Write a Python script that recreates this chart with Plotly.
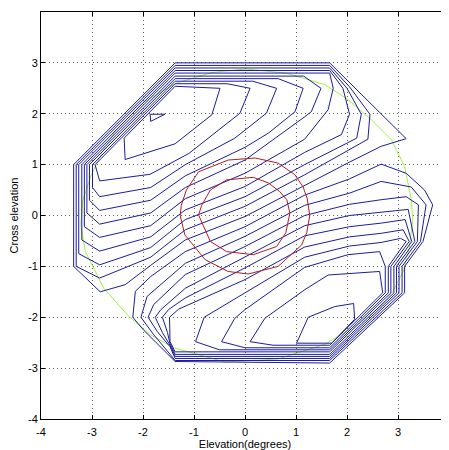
import plotly.graph_objects as go

# ---------------- data ----------------
TICKS = [-4, -3, -2, -1, 0, 1, 2, 3, 4]

# green outline (x, y)
GREEN = [(0.0, 2.88), (0.8, 2.80), (1.57, 2.57), (2.02, 2.28), (2.48, 1.88), (2.87, 1.49),
         (3.13, 0.96), (3.26, 0.31), (3.29, -0.08), (3.22, -0.64), (3.10, -1.10), (2.90, -1.49),
         (2.67, -1.78), (2.22, -2.14), (1.57, -2.53), (0.65, -2.82), (-0.39, -2.88), (-1.40, -2.60),
         (-1.86, -2.34), (-2.28, -1.98), (-2.77, -1.43), (-3.13, -0.71), (-3.22, -0.18), (-3.18, 0.30),
         (-3.02, 0.78), (-2.80, 1.25), (-2.55, 1.65), (-2.00, 2.22), (-1.35, 2.60), (-0.65, 2.81),
         (0.0, 2.88)]

# positive contour loops (upper-left maximum), innermost first
P1 = [(-1.86, 1.99), (-1.57, 1.99), (-1.85, 1.85), (-1.86, 1.99)]
P2 = [(-2.37, 1.52), (-2.35, 1.10), (-1.37, 1.41), (-0.65, 1.98), (-0.49, 2.50), (-1.37, 2.54), (-2.37, 1.52)]
P3 = [(-2.94, 1.0), (-2.85, 0.68), (-1.86, 0.81), (-1.10, 1.22), (-0.10, 2.01), (0.10, 2.50),
      (-0.35, 2.59), (-1.37, 2.59), (-2.94, 1.0)]
P4 = [(-2.99, 1.0), (-2.99, 0.55), (-2.85, 0.37), (-1.85, 0.55), (-1.17, 1.0), (-0.20, 1.52),
      (0.42, 2.01), (0.62, 2.50), (0.15, 2.64), (-1.37, 2.64), (-2.99, 1.0)]
P5 = [(-3.05, 1.0), (-3.05, 0.30), (-2.85, 0.10), (-1.85, 0.30), (-1.17, 0.78), (0.0, 1.34),
      (0.46, 1.62), (0.98, 2.04), (1.14, 2.50), (0.65, 2.69), (-1.37, 2.69), (-3.05, 1.0)]
P6 = [(-3.10, 1.0), (-3.10, 0.05), (-2.85, -0.17), (-1.85, 0.05), (-1.17, 0.55), (0.0, 1.09),
      (1.17, 1.94), (1.30, 2.04), (1.49, 2.50), (1.15, 2.74), (-1.37, 2.74), (-3.10, 1.0)]
P7 = [(-3.15, 1.0), (-3.15, -0.22), (-2.85, -0.43), (-1.85, -0.20), (-1.17, 0.33), (0.0, 0.83),
      (1.17, 1.50), (1.63, 2.08), (1.73, 2.50), (1.66, 2.80), (-1.37, 2.80), (-3.15, 1.0)]
P8 = [(-3.20, 1.0), (-3.20, -0.48), (-2.85, -0.70), (-1.85, -0.42), (-1.17, 0.11), (0.0, 0.57),
      (1.17, 1.24), (1.89, 1.59), (2.05, 1.99), (1.92, 2.50), (1.66, 2.85), (-1.37, 2.85), (-3.20, 1.0)]
P9 = [(-3.26, 1.0), (-3.26, -0.75), (-2.85, -0.97), (-1.85, -0.63), (-1.17, -0.08), (0.0, 0.37),
      (1.17, 1.00), (2.19, 1.52), (2.28, 1.99), (2.00, 2.50), (1.66, 2.90), (-1.37, 2.90), (-3.26, 1.0)]
P10 = [(-3.31, 1.0), (-3.31, -1.0), (-2.85, -1.23), (-1.85, -0.82), (-1.17, -0.28), (0.0, 0.18),
       (1.17, 0.80), (2.41, 1.50), (2.45, 1.99), (2.05, 2.53), (1.66, 2.95), (-1.37, 2.95), (-3.31, 1.0)]
P11 = [(-3.36, 1.0), (-3.36, -1.0), (-2.84, -1.50), (-2.35, -1.36), (-1.85, -0.98), (-1.17, -0.48),
       (0.0, -0.02), (1.17, 0.60), (2.05, 1.05), (2.67, 1.36), (3.16, 1.51), (1.66, 3.0), (-1.37, 3.0),
       (-3.36, 1.0)]

# negative contour loops (lower-right minimum), innermost first
N2 = [(1.01, -2.51), (1.24, -2.0), (1.76, -1.79), (2.13, -1.73), (2.15, -2.04), (1.70, -2.51), (1.01, -2.51)]
N3 = [(0.10, -2.48), (0.39, -2.02), (1.17, -1.46), (1.63, -1.17), (2.64, -1.10), (2.70, -1.52),
      (1.66, -2.55), (0.55, -2.55), (0.10, -2.48)]
N4 = [(-0.46, -2.48), (-0.20, -2.02), (0.0, -1.85), (1.17, -1.02), (2.02, -0.77), (2.64, -0.71),
      (2.75, -1.0), (2.75, -1.52), (1.66, -2.60), (0.0, -2.60), (-0.46, -2.48)]
N5 = [(-0.97, -2.48), (-0.80, -2.0), (0.0, -1.52), (1.17, -0.82), (2.05, -0.60), (2.67, -0.53),
      (3.05, -0.45), (3.16, -0.51), (2.81, -1.0), (2.81, -1.52), (1.66, -2.64), (-0.50, -2.64),
      (-0.97, -2.48)]
N6 = [(-1.47, -2.48), (-1.48, -2.0), (-1.30, -1.84), (0.0, -1.26), (1.17, -0.62), (2.05, -0.42),
      (2.67, -0.35), (3.10, -0.28), (3.22, -0.51), (2.86, -1.0), (2.86, -1.52), (1.66, -2.68),
      (-1.37, -2.68), (-1.47, -2.48)]
N7 = [(-1.62, -2.0), (-1.50, -1.85), (-1.17, -1.62), (0.0, -1.03), (1.17, -0.40), (2.05, -0.22),
      (2.67, -0.15), (3.14, -0.08), (3.27, -0.51), (2.92, -1.0), (2.92, -1.52), (1.66, -2.73),
      (-1.37, -2.73), (-1.47, -2.52), (-1.52, -2.30), (-1.62, -2.0)]
N8 = [(-1.76, -2.0), (-1.65, -1.85), (-1.17, -1.43), (0.0, -0.81), (1.17, -0.20), (2.05, 0.0),
      (2.67, 0.07), (3.20, 0.12), (3.33, -0.51), (2.97, -1.0), (2.97, -1.52), (1.66, -2.77),
      (-1.37, -2.77), (-1.47, -2.55), (-1.62, -2.30), (-1.76, -2.0)]
N9 = [(-1.90, -2.0), (-1.79, -1.75), (-1.17, -1.16), (0.0, -0.61), (1.17, 0.0), (2.05, 0.22),
      (2.67, 0.31), (3.16, 0.37), (3.40, 0.21), (3.38, -0.51), (3.02, -1.0), (3.02, -1.52),
      (1.66, -2.81), (-1.37, -2.81), (-1.47, -2.58), (-1.72, -2.28), (-1.90, -2.0)]
N10 = [(-2.04, -2.0), (-1.92, -1.59), (-1.17, -0.94), (0.0, -0.41), (1.17, 0.20), (2.05, 0.44),
       (2.67, 0.67), (3.26, 0.56), (3.55, 0.21), (3.44, -0.51), (3.08, -1.0), (3.08, -1.52),
       (1.66, -2.85), (-1.37, -2.85), (-1.80, -2.33), (-2.04, -2.0)]
N11 = [(-2.20, -2.0), (-2.15, -1.49), (-1.85, -1.20), (-1.17, -0.71), (0.0, -0.22), (1.17, 0.40),
       (2.05, 0.72), (2.67, 1.01), (3.16, 0.83), (3.52, 0.50), (3.68, 0.21), (3.49, -0.51),
       (3.13, -1.0), (3.13, -1.52), (1.66, -2.90), (-1.37, -2.87), (-1.70, -2.54), (-1.99, -2.25),
       (-2.20, -2.0)]

# red beam outlines
RED_OUTER = [(1.27, 0.0), (1.22, 0.33), (1.14, 0.56), (0.98, 0.80), (0.65, 1.03), (0.20, 1.13),
             (-0.33, 1.09), (-0.91, 0.86), (-1.15, 0.50), (-1.25, 0.20), (-1.27, 0.0), (-1.18, -0.38),
             (-0.78, -0.87), (-0.33, -1.10), (0.06, -1.15), (0.65, -1.00), (1.11, -0.58), (1.21, -0.34),
             (1.27, 0.0)]
RED_INNER = [(0.88, 0.05), (0.82, 0.31), (0.68, 0.47), (0.46, 0.64), (0.16, 0.75), (-0.36, 0.70),
             (-0.68, 0.50), (-0.85, 0.20), (-0.91, 0.01), (-0.75, -0.34), (-0.68, -0.51), (-0.36, -0.71),
             (0.16, -0.77), (0.62, -0.61), (0.80, -0.34), (0.88, 0.05)]

BLUE_LINES = [P1, P2, P3, P4, P5, P6, P7, P8, P9, P10, P11,
              N2, N3, N4, N5, N6, N7, N8, N9, N10, N11]
RED_LINES = [RED_OUTER, RED_INNER]

# ---------------- styling ----------------
BLUE = "#1c1c9c"
RED = "#b41c1c"
GREEN_C = "#a6f03c"
FONT = "Liberation Sans, Arial, Helvetica, sans-serif"

fig = go.Figure()


def add_line(pts, color, width=1.0):
    fig.add_trace(go.Scatter(
        x=[p[0] for p in pts], y=[p[1] for p in pts], mode="lines",
        line=dict(color=color, width=width), hoverinfo="skip", showlegend=False))


add_line(GREEN, GREEN_C, 1.0)
for ln in BLUE_LINES:
    add_line(ln, BLUE, 1.0)
for ln in RED_LINES:
    add_line(ln, RED, 1.0)

axis_common = dict(
    range=[-4, 4], tickmode="array", tickvals=TICKS, ticktext=[str(t) for t in TICKS],
    ticks="inside", ticklen=4, tickwidth=1, tickcolor="black",
    showline=True, linecolor="black", linewidth=1, mirror="ticks",
    showgrid=True, gridcolor="#606060", gridwidth=1, griddash="1px,3px",
    zeroline=False, tickfont=dict(family=FONT, size=11, color="black"),
    fixedrange=True, automargin=False,
)

# the page body adds an 8px offset, so the figure is sized/margined to compensate
fig.update_layout(
    width=441, height=442,
    margin=dict(l=33, r=0, t=4, b=31, autoexpand=False),
    paper_bgcolor="white", plot_bgcolor="white",
    font=dict(family=FONT, size=11, color="black"),
    xaxis=dict(**axis_common, ticklabelstandoff=3,
               title=dict(text="Elevation(degrees)", standoff=2, font=dict(family=FONT, size=11))),
    yaxis=dict(**axis_common,
               title=dict(text="Cross elevation", standoff=12, font=dict(family=FONT, size=11))),
)

fig.write_html("out.html")
